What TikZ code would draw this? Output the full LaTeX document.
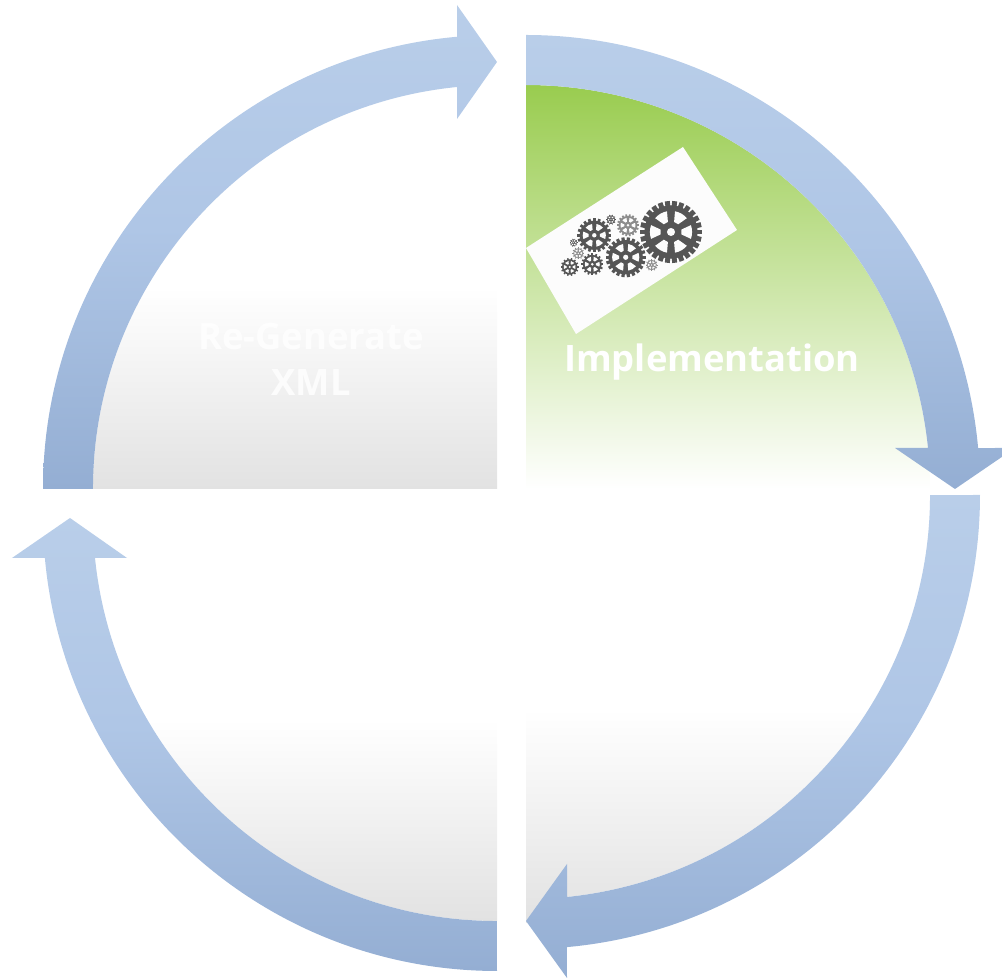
\documentclass[tikz,border=0pt]{standalone}
\usepackage{fontspec}
\setmainfont{Open Sans}
\usetikzlibrary{positioning}
\definecolor{bandtop}{HTML}{B9CEE9}
\definecolor{bandmid}{HTML}{AFC6E6}
\definecolor{bandbot}{HTML}{94AED3}
\definecolor{leafgreen}{HTML}{99CC4F}
\definecolor{quadgrey}{HTML}{E2E2E2}
\definecolor{geardark}{HTML}{555555}
\definecolor{gearpale}{HTML}{8C8C8C}
\definecolor{photowhite}{HTML}{FCFCFC}
\pgfdeclareverticalshading{bandshade}{100bp}{color(0bp)=(bandbot); color(25bp)=(bandbot); color(52bp)=(bandmid); color(75bp)=(bandtop); color(100bp)=(bandtop)}
\pgfdeclareverticalshading{greyshade}{100bp}{color(0bp)=(quadgrey); color(25bp)=(quadgrey); color(50bp)=(white); color(100bp)=(white)}
\pgfdeclareverticalshading{leafshade}{100bp}{color(0bp)=(white); color(25bp)=(white); color(75bp)=(leafgreen); color(100bp)=(leafgreen)}
\tikzset{
    bandarrow/.style = {shading=bandshade},
    quadgreen/.style = {shading=leafshade},
    quadplain/.style = {shading=greyshade},
    photo/.style = {fill=photowhite},
    steplabel/.style = {text=white, align=center, font=\bfseries\fontsize{10.35}{13.1}\selectfont},
}
% x y r teeth colour
\newcommand{\gearwheel}[5]{
    \begin{scope}[shift={(#1,#2)}]
    \fill[#5] (0,0) circle (#3*0.86);
    \foreach \t in {1,...,#4}
        \draw[#5, line width=#3*0.0016cm] (\t*360/#4:#3*0.8) -- (\t*360/#4:#3);
    \foreach \w in {0,60,...,300}
        \fill[photowhite] (\w-13:#3*0.34) -- (\w-19:#3*0.68) arc[start angle=\w-19, end angle=\w+19, radius=#3*0.68] -- (\w+13:#3*0.34) -- cycle;
    \fill[photowhite] (0,0) circle (#3*0.13);
    \end{scope}
}

\begin{document}
\begin{tikzpicture}[x=0.01cm,y=-0.01cm]
\clip (0,0) rectangle (1002,980);
\useasboundingbox (0,0) rectangle (1002,980);
% quadrants
\shade[quadgreen] (526,489) -- (526,85) arc[start angle=-90, end angle=0, radius=404] -- cycle;
\shade[quadplain] (497,489) -- (93,489) arc[start angle=180, end angle=270, radius=404] -- cycle;
\shade[quadplain] (526,495) -- (930,495) arc[start angle=0, end angle=84.18, radius=404] -- (526,923) -- cycle;
\shade[quadplain] (497,517) -- (497,921) arc[start angle=90, end angle=180, radius=404] -- cycle;
% arrows
\shade[bandarrow] (526,35) arc[start angle=-90, end angle=-5.18, radius=454] -- (1015,448) -- (955,489) -- (895,448) -- (928,448) arc[start angle=-5.83, end angle=-90, radius=404] -- cycle;
\shade[bandarrow] (980,495) arc[start angle=0, end angle=84.82, radius=454] -- (567,978) -- (526,921) -- (567,864) -- (567,897) arc[start angle=84.18, end angle=0, radius=404] -- cycle;
\shade[bandarrow] (497,971) arc[start angle=90, end angle=174.82, radius=454] -- (12,558) -- (70,518) -- (127,558) -- (95,558) arc[start angle=174.18, end angle=90, radius=404] -- cycle;
\shade[bandarrow] (43,489) arc[start angle=180, end angle=264.95, radius=454] -- (457,5) -- (497,62) -- (457,119) -- (457,87) arc[start angle=264.32, end angle=180, radius=404] -- cycle;
% gears picture
\fill[photo] (683,147) -- (737,230) -- (576,334) -- (526,248) -- cycle;
\gearwheel{671}{232}{31}{26}{geardark}
\gearwheel{625.7}{257.3}{20}{22}{geardark}
\gearwheel{594.3}{235.3}{17}{20}{geardark}
\gearwheel{628}{225.3}{11}{18}{gearpale}
\gearwheel{611}{219.7}{5}{10}{geardark}
\gearwheel{573.7}{242.7}{4}{10}{geardark}
\gearwheel{578.3}{253.3}{6}{12}{gearpale}
\gearwheel{592.3}{264.3}{11}{16}{geardark}
\gearwheel{569.7}{267}{9}{14}{geardark}
\gearwheel{651.7}{265}{6}{12}{gearpale}
% labels
\node[steplabel] (impl) at (712,362) {Implementation};
\node[steplabel, opacity=.8] (regen) at (311,359) {Re-Generate\\XML};
\end{tikzpicture}
\end{document}
